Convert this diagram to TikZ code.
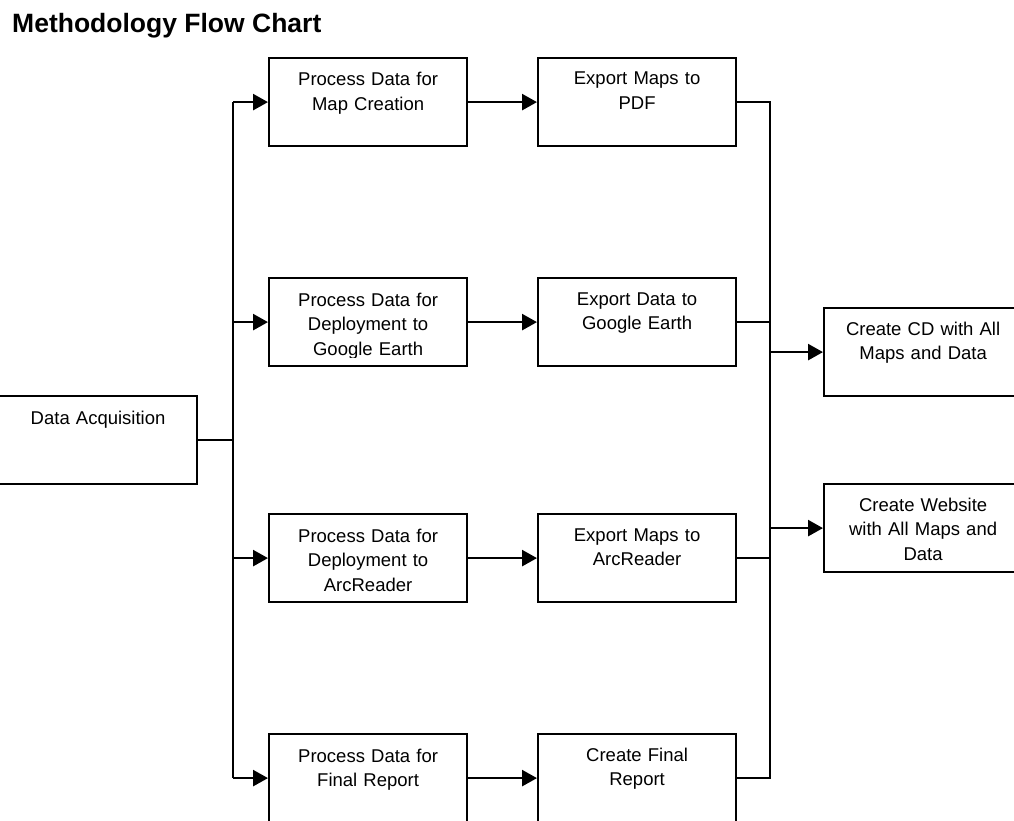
\documentclass[tikz,border=0pt]{standalone}
\usepackage{fontspec}
\setmainfont{Liberation Sans}
\usetikzlibrary{arrows.meta}
\tikzset{
  box/.style={draw, line width=2.2pt, minimum width=198pt, minimum height=88pt, inner sep=0pt, anchor=north west},
  txt/.style={font=\fontsize{18.5}{24.5}\selectfont, align=center, text width=196pt, anchor=base, inner sep=0pt},
  ln/.style={line width=1.9pt},
  arr/.style={line width=2.6pt, -{Triangle[length=15pt,width=16pt]}},
}
\begin{document}
\begin{tikzpicture}[x=1pt,y=-1pt]
\clip (0,0) rectangle (1014,821);
\fill[white] (0,0) rectangle (1014,821);
\node[anchor=base west, font=\bfseries\fontsize{26.5}{30}\selectfont, inner sep=0pt] (title) at (12,33) {Methodology Flow Chart};

% boxes
\node[box] (da) at (-2,395) {};
\node[box] (p1) at (268,57) {};
\node[box] (p2) at (268,277) {};
\node[box] (p3) at (268,513) {};
\node[box] (p4) at (268,733) {};
\node[box] (e1) at (537,57) {};
\node[box] (e2) at (537,277) {};
\node[box] (e3) at (537,513) {};
\node[box] (e4) at (537,733) {};
\node[box] (cd) at (823,307) {};
\node[box] (web) at (823,483) {};

% texts
\node[txt] (dat) at ([yshift=-29pt]da.north) {Data Acquisition};
\node[txt] (p1t) at ([yshift=-29pt]p1.north) {Process Data for\\Map Creation};
\begin{scope}
\clip (268,277) rectangle (466,357);
\node[txt] (p2t) at ([yshift=-29pt]p2.north) {Process Data for\\Deployment to\\Google Earth};
\end{scope}
\node[txt] (p3t) at ([yshift=-29pt]p3.north) {Process Data for\\Deployment to\\ArcReader};
\node[txt] (p4t) at ([yshift=-29pt]p4.north) {Process Data for\\Final Report};
\node[txt] (e1t) at ([yshift=-28pt]e1.north) {Export Maps to\\PDF};
\node[txt] (e2t) at ([yshift=-28pt]e2.north) {Export Data to\\Google Earth};
\node[txt] (e3t) at ([yshift=-28pt]e3.north) {Export Maps to\\ArcReader};
\node[txt] (e4t) at ([yshift=-28pt]e4.north) {Create Final\\Report};
\node[txt] (cdt) at ([yshift=-28pt]cd.north) {Create CD with All\\Maps and Data};
\node[txt] (webt) at ([yshift=-28pt]web.north) {Create Website\\with All Maps and\\Data};

% buses
\coordinate (lbus) at (233,0);
\coordinate (rbus) at (770,0);

\draw[ln] (da.east) -- (da.east -| lbus);
\draw[ln] (p1.west -| lbus) -- (p4.west -| lbus);
\foreach \b in {p1,p2,p3,p4}{
  \draw[arr] (\b.west -| lbus) -- (\b.west);
}
\draw[arr] (p1.east) -- (e1.west);
\draw[arr] (p2.east) -- (e2.west);
\draw[arr] (p3.east) -- (e3.west);
\draw[arr] (p4.east) -- (e4.west);

\draw[ln] (e1.east) -- (e1.east -| rbus) -- (e4.east -| rbus) -- (e4.east);
\draw[ln] (e2.east) -- (e2.east -| rbus);
\draw[ln] (e3.east) -- (e3.east -| rbus);
\draw[arr] (cd.west -| rbus) -- (cd.west);
\draw[arr] (web.west -| rbus) -- (web.west);
\end{tikzpicture}
\end{document}
